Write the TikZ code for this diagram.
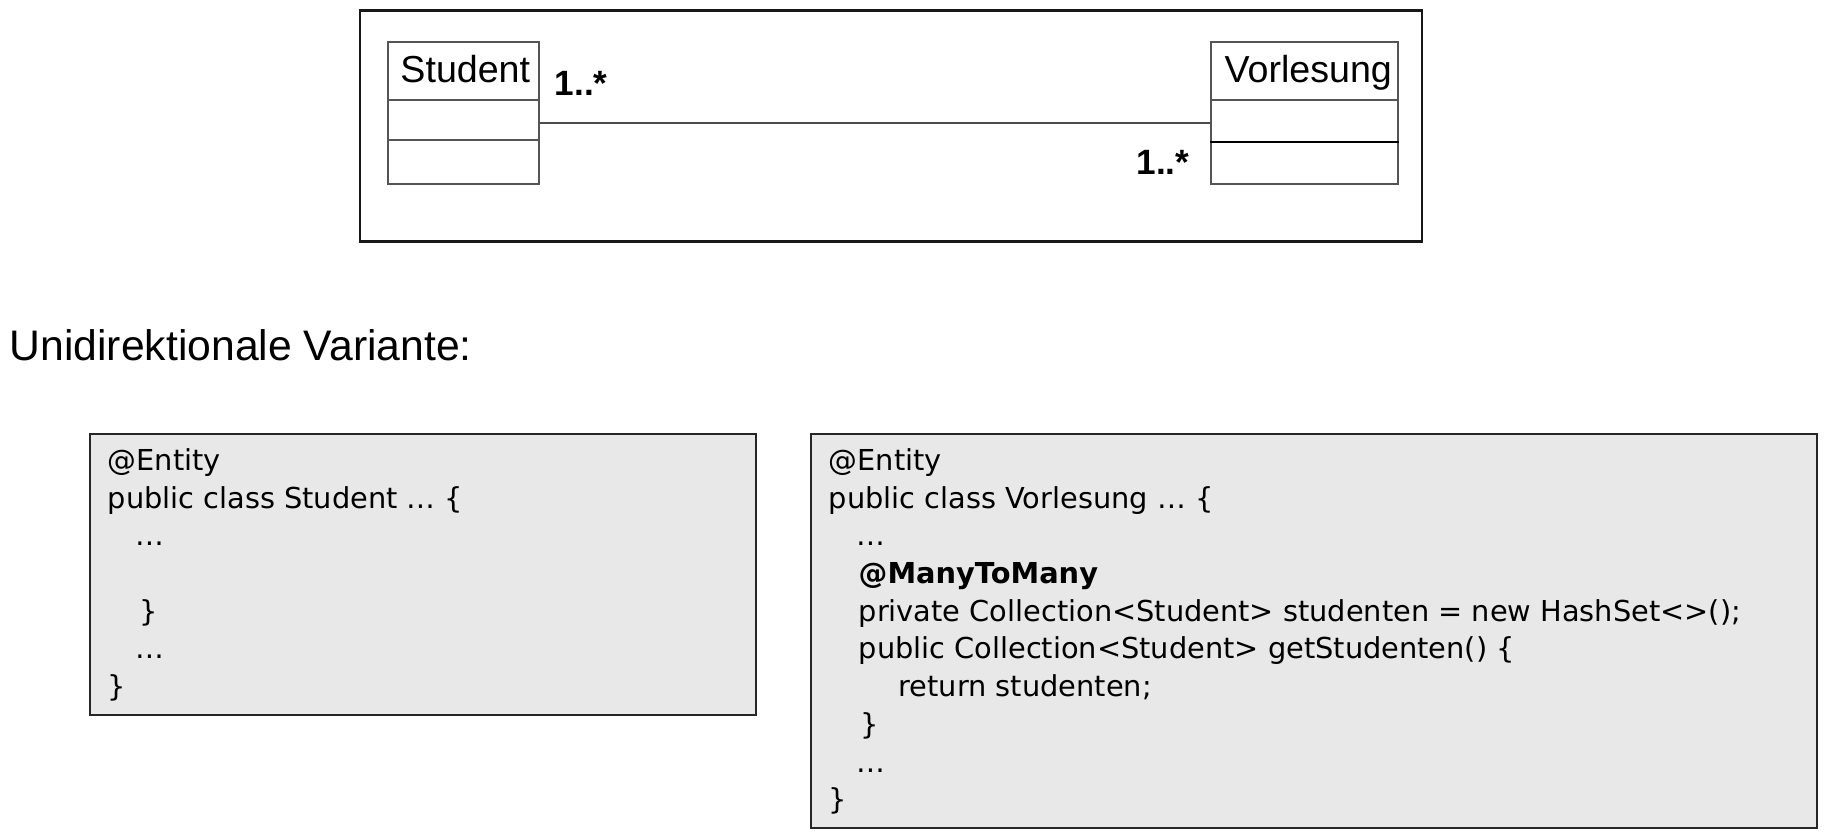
\documentclass[tikz,border=0pt]{standalone}
\usepackage{fontspec}
\setmainfont{Liberation Sans}
\newfontfamily\codefont{DejaVu Sans}
\usetikzlibrary{positioning}

\definecolor{codegray}{HTML}{E8E8E8}
\definecolor{umlgray}{HTML}{555555}

\tikzset{
  classbox/.style={draw=umlgray,line width=0.45pt,inner sep=0pt,anchor=north west},
  classname/.style={font=\fontsize{10.7}{12}\selectfont,anchor=base,inner sep=0pt},
  mult/.style={font=\fontsize{10}{12}\selectfont\bfseries,inner sep=0pt},
  codebox/.style={draw=black!85,fill=codegray,line width=0.6pt,inner sep=0pt,anchor=north west},
  codeline/.style={font=\codefont\fontsize{8.2}{10.75}\selectfont,anchor=base west,inner sep=0pt}
}

\begin{document}
\begin{tikzpicture}
  \useasboundingbox (0,0) rectangle (18.29,8.34);

  % UML frame
  \draw[black!90,line width=0.6pt] (3.60,5.925) rectangle (14.22,8.235);

  \node[classbox,minimum width=1.51cm,minimum height=1.42cm] (stud) at (3.87,7.93) {};
  \node[classbox,minimum width=1.87cm,minimum height=1.42cm] (vorl) at (12.10,7.93) {};
  \draw[umlgray,line width=0.4pt] ([yshift=-0.59cm]stud.north west) -- ([yshift=-0.59cm]stud.north east);
  \draw[umlgray,line width=0.4pt] ([yshift=-0.99cm]stud.north west) -- ([yshift=-0.99cm]stud.north east);
  \draw[umlgray,line width=0.4pt] ([yshift=-0.59cm]vorl.north west) -- ([yshift=-0.59cm]vorl.north east);
  \draw[black,line width=0.4pt] ([yshift=-1.01cm]vorl.north west) -- ([yshift=-1.01cm]vorl.north east);
  \node[classname] (studname) at ([yshift=-0.42cm,xshift=0.02cm]stud.north) {Student};
  \node[classname] (vorlname) at ([yshift=-0.42cm,xshift=0.04cm]vorl.north) {Vorlesung};

  \draw[black!70,line width=0.45pt] ([yshift=-0.105cm]stud.east) -- ([yshift=-0.105cm]vorl.west);
  \node[mult,anchor=base west] (mstud) at (5.54,7.38) {1..*};
  \node[mult,anchor=base east] (mvorl) at (11.90,6.59) {1..*};

  \node[font=\fontsize{12.15}{14}\selectfont,anchor=base west,inner sep=0pt] (title) at (0.09,4.73) {Unidirektionale Variante:};

  % code Student
  \node[codebox,minimum width=6.66cm,minimum height=2.81cm] (scode) at (0.89,4.01) {};
  \begin{scope}[shift={(0.89,4.01)}]
    \foreach \k/\ind/\txt in {0/0/@Entity, 1/0/public class Student … \{, 2/0.28/…, 4/0.32/\}, 5/0.28/…, 6/0/\}}{
      \node[codeline] (sl\k) at (0.18+\ind,-0.375-0.377*\k) {\txt};
    }
  \end{scope}

  % code Vorlesung
  \node[codebox,minimum width=10.06cm,minimum height=3.94cm] (vcode) at (8.10,4.01) {};
  \begin{scope}[shift={(8.10,4.01)}]
    \foreach \k/\ind/\txt in {0/0/@Entity, 1/0/public class Vorlesung … \{, 2/0.28/…,
        3/0.30/\textbf{@ManyToMany},
        4/0.30/private Collection<Student> studenten = new HashSet<>();,
        5/0.30/public Collection<Student> getStudenten() \{,
        6/0.70/return studenten;, 7/0.32/\}, 8/0.28/…, 9/0/\}}{
      \node[codeline] (vl\k) at (0.18+\ind,-0.375-0.377*\k) {\txt};
    }
  \end{scope}
\end{tikzpicture}
\end{document}
